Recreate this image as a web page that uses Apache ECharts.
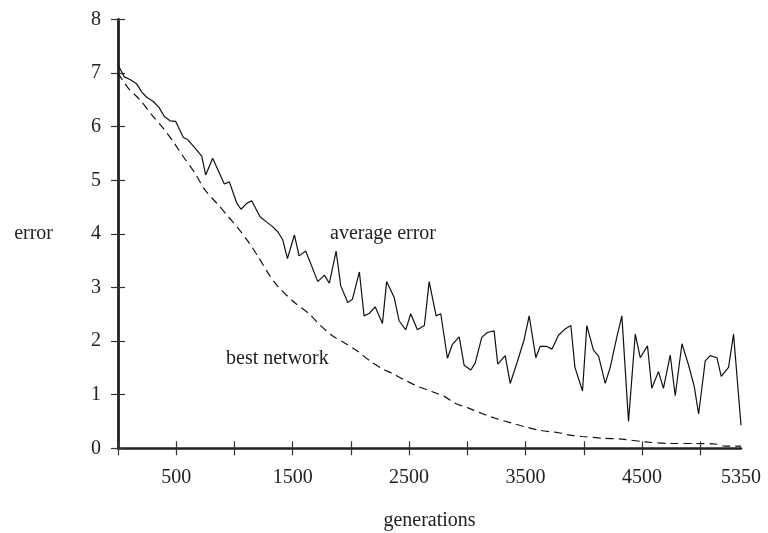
<!DOCTYPE html>
<html>
<head>
<meta charset="utf-8">
<script src="https://cdn.jsdelivr.net/npm/echarts@6/dist/echarts.min.js"></script>
<style>html,body{margin:0;padding:0;background:#fff}#c{width:768px;height:533px}</style>
</head>
<body>
<div id="c"></div>
<script>
var avgGen = [0,54,103,160,203,246,303,352,398,447,495,561,598,662,719,753,813,913,956,1019,1056,1105,1148,1220,1277,1320,1372,1415,1455,1515,1555,1612,1716,1772,1815,1873,1913,1973,2013,2073,2113,2159,2208,2271,2307,2371,2414,2471,2514,2571,2631,2672,2732,2772,2829,2872,2930,2972,3030,3067,3124,3172,3230,3261,3325,3368,3430,3488,3531,3588,3625,3683,3726,3783,3835,3889,3924,3989,4026,4083,4127,4184,4227,4284,4327,4384,4442,4485,4547,4584,4641,4684,4742,4785,4843,4900,4948,4986,5043,5086,5143,5180,5243,5286,5350];
var avgVal = [7.15,6.93,6.88,6.80,6.65,6.55,6.47,6.36,6.19,6.11,6.10,5.80,5.76,5.60,5.45,5.10,5.41,4.93,4.97,4.58,4.46,4.57,4.62,4.32,4.22,4.15,4.04,3.89,3.54,3.98,3.59,3.68,3.11,3.23,3.08,3.68,3.03,2.72,2.78,3.29,2.47,2.52,2.64,2.33,3.11,2.82,2.38,2.21,2.51,2.21,2.29,3.11,2.47,2.51,1.68,1.94,2.08,1.55,1.46,1.59,2.07,2.16,2.19,1.57,1.73,1.21,1.62,2.03,2.47,1.69,1.90,1.90,1.85,2.11,2.22,2.29,1.51,1.07,2.29,1.83,1.72,1.21,1.51,2.08,2.47,0.50,2.13,1.69,1.91,1.12,1.43,1.12,1.74,0.98,1.95,1.55,1.16,0.64,1.63,1.73,1.69,1.34,1.51,2.13,0.43];
var bestGen = [0,88,189,290,389,475,561,662,747,862,948,1034,1120,1205,1291,1377,1521,1635,1735,1835,1950,2065,2151,2265,2351,2465,2580,2695,2809,2895,3010,3124,3239,3382,3497,3611,3783,3869,3983,4155,4327,4528,4728,4957,5129,5215,5350];
var bestVal = [7.0,6.72,6.50,6.22,5.97,5.72,5.44,5.13,4.82,4.54,4.32,4.10,3.85,3.57,3.26,3.01,2.71,2.52,2.30,2.11,1.96,1.80,1.65,1.49,1.40,1.27,1.15,1.06,0.96,0.84,0.75,0.65,0.56,0.47,0.40,0.34,0.29,0.25,0.22,0.19,0.17,0.12,0.09,0.09,0.08,0.04,0.04];
var xTickValues = [0,500,1000,1500,2000,2500,3000,3500,4000,4500,5000];
var xLabelValues = [500,1500,2500,3500,4500,5350];
var yLabels = [0,1,2,3,4,5,6,7,8];
var seriesNames = ['average error','best network'];
var xName = 'generations';
var yName = 'error';

var FONT = 'Liberation Serif';
var TXT = '#222';
function pairs(a,b){return a.map(function(v,i){return [v,b[i]];});}

var chart = echarts.init(document.getElementById('c'), null, {renderer:'canvas'});
var xCommon = {type:'value', min:0, max:5350, gridIndex:0, position:'bottom'};
var yCommon = {type:'value', min:0, max:8, interval:1, gridIndex:0, position:'left'};
chart.setOption({
  animation:false,
  backgroundColor:'#fff',
  grid:{left:118, right:27, top:19.5, bottom:84.7, containLabel:false, outerBoundsMode:'none'},
  xAxis:[
    Object.assign({}, xCommon, {
      name:xName, nameLocation:'middle', nameGap:62, nameMoveOverlap:false,
      nameTextStyle:{fontFamily:FONT, fontSize:20, color:TXT},
      axisLine:{show:true, onZero:false, lineStyle:{color:'#222', width:2.5}},
      axisTick:{show:true, inside:false, length:7, customValues:xTickValues, lineStyle:{color:'#333', width:1.2}},
      axisLabel:{show:true, margin:19, customValues:xLabelValues, fontFamily:FONT, fontSize:20, color:TXT,
        formatter:function(v){return String(v);}},
      splitLine:{show:false}
    }),
    Object.assign({}, xCommon, {
      axisLine:{show:false, onZero:false},
      axisTick:{show:true, inside:true, length:7, customValues:xTickValues, lineStyle:{color:'#333', width:1.2}},
      axisLabel:{show:false},
      splitLine:{show:false}
    })
  ],
  yAxis:[
    Object.assign({}, yCommon, {
      name:yName, nameLocation:'middle', nameGap:65, nameRotate:0, nameMoveOverlap:false,
      nameTextStyle:{fontFamily:FONT, fontSize:20, color:TXT, align:'right'},
      axisLine:{show:true, onZero:false, lineStyle:{color:'#222', width:2.8}},
      axisTick:{show:true, inside:false, length:7, lineStyle:{color:'#333', width:1.2}},
      axisLabel:{show:true, margin:17, fontFamily:FONT, fontSize:20, color:TXT,
        formatter:function(v){return yLabels.indexOf(v)>=0?String(v):'';}},
      splitLine:{show:false}
    }),
    Object.assign({}, yCommon, {
      axisLine:{show:false, onZero:false},
      axisTick:{show:true, inside:true, length:7, lineStyle:{color:'#333', width:1.2}},
      axisLabel:{show:false},
      splitLine:{show:false}
    })
  ],
  series:[
    {name:seriesNames[0], type:'line', xAxisIndex:0, yAxisIndex:0, data:pairs(avgGen,avgVal),
     showSymbol:false, symbol:'none', lineStyle:{color:'#111', width:1.2}, z:3},
    {name:seriesNames[1], type:'line', xAxisIndex:0, yAxisIndex:0, data:pairs(bestGen,bestVal),
     showSymbol:false, symbol:'none', smooth:0.3, lineStyle:{color:'#111', width:1.2, type:[8,5]}, z:3}
  ],
  graphic:[
    {type:'text', left:330, top:224, style:{text:seriesNames[0], font:'20px "Liberation Serif"', fill:TXT}},
    {type:'text', left:226, top:349, style:{text:seriesNames[1], font:'20px "Liberation Serif"', fill:TXT}}
  ]
});
</script>
</body>
</html>
